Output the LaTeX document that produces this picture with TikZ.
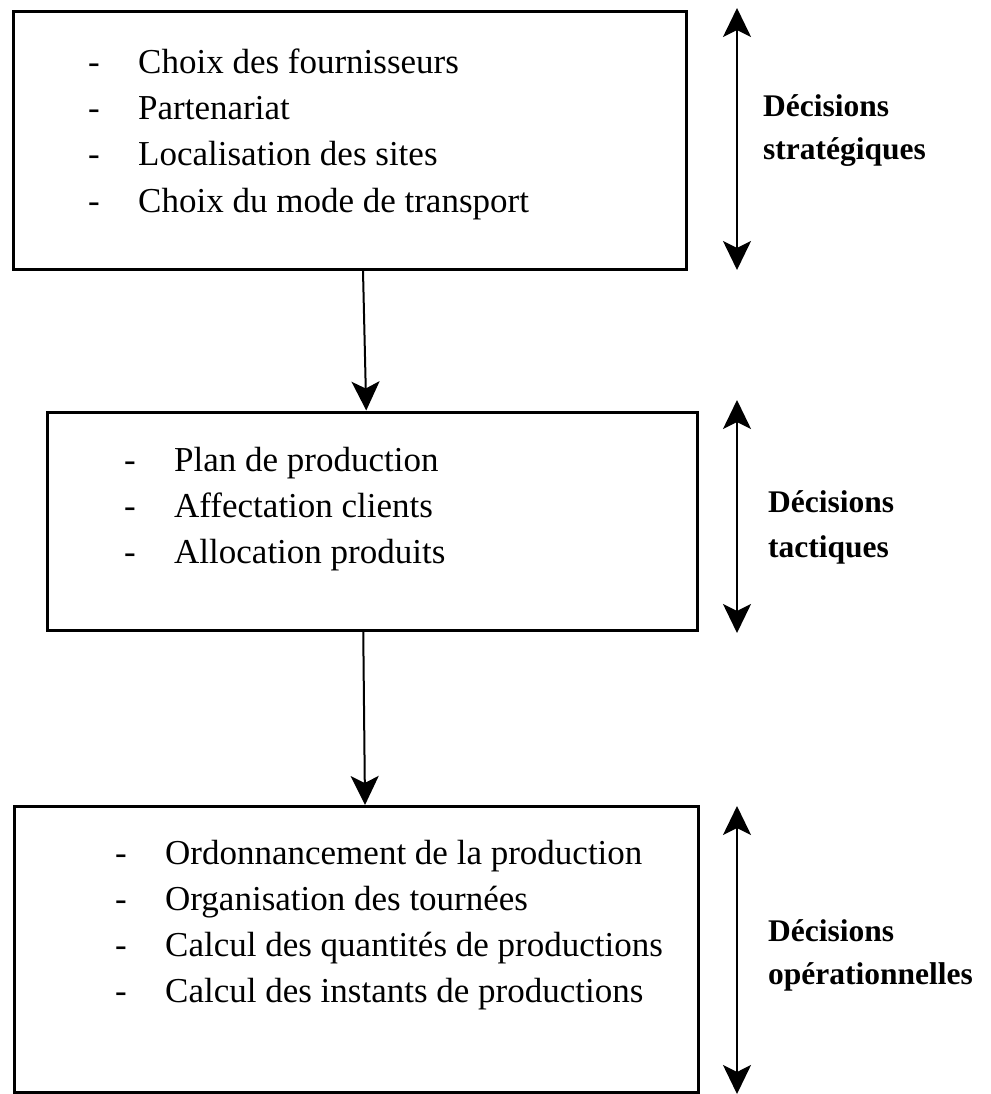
\documentclass[tikz,border=0pt]{standalone}
\usepackage{fontspec}
\setmainfont{Liberation Serif}
\usetikzlibrary{arrows.meta}
\tikzset{headtip/.tip={Stealth[length=29pt,width=28pt,inset=7pt]}}
\begin{document}
\begin{tikzpicture}[x=1pt,y=-1pt,
  box/.style={draw, line width=3pt, rectangle, inner sep=0pt},
  item/.style={anchor=base west, inner sep=0pt, font=\fontsize{35}{42}\selectfont},
  dashmark/.style={anchor=base west, inner sep=0pt, font=\fontsize{35}{42}\selectfont},
  level/.style={anchor=base west, inner sep=0pt, font=\fontsize{31.5}{38}\selectfont\bfseries},
  flow/.style={line width=2pt, -{headtip}},
  span/.style={line width=2pt, {headtip}-{headtip}}]
\useasboundingbox (0,0) rectangle (990,1094);

% decision level boxes
\node[box, minimum width=673pt, minimum height=258pt] (b1) at (350,140.5) {};
\node[box, minimum width=650.5pt, minimum height=218.5pt] (b2) at (372.25,521.25) {};
\node[box, minimum width=684pt, minimum height=285.5pt] (b3) at (356,949.25) {};

% strategic decisions
\node[dashmark] (d11) at (88,74) {-};
\node[dashmark] (d12) at (88,120) {-};
\node[dashmark] (d13) at (88,166) {-};
\node[dashmark] (d14) at (88,212) {-};
\node[item] (t11) at (138,74) {Choix des fournisseurs};
\node[item] (t12) at (138,120) {Partenariat};
\node[item] (t13) at (138,166) {Localisation des sites};
\node[item] (t14) at (138,212) {Choix du mode de transport};

% tactical decisions
\node[dashmark] (d21) at (124,471) {-};
\node[dashmark] (d22) at (124,517) {-};
\node[dashmark] (d23) at (124,563) {-};
\node[item] (t21) at (174,471) {Plan de production};
\node[item] (t22) at (174,517) {Affectation clients};
\node[item] (t23) at (174,563) {Allocation produits};

% operational decisions
\node[dashmark] (d31) at (115,864) {-};
\node[dashmark] (d32) at (115,910) {-};
\node[dashmark] (d33) at (115,956) {-};
\node[dashmark] (d34) at (115,1002) {-};
\node[item] (t31) at (165,864) {Ordonnancement de la production};
\node[item] (t32) at (165,910) {Organisation des tournées};
\node[item] (t33) at (165,956) {Calcul des quantités de productions};
\node[item] (t34) at (165,1002) {Calcul des instants de productions};

% level labels
\node[level] (l1a) at (763,117) {Décisions};
\node[level] (l1b) at (763,160) {stratégiques};
\node[level] (l2a) at (768,512) {Décisions};
\node[level] (l2b) at (768,557) {tactiques};
\node[level] (l3a) at (768,941) {Décisions};
\node[level] (l3b) at (768,984) {opérationnelles};

% flow between levels
\draw[flow] ([xshift=13pt]b1.south) -- ([xshift=-6pt]b2.north);
\draw[flow] ([xshift=-9pt]b2.south) -- ([xshift=9pt]b3.north);

% horizon spans
\coordinate (s1t) at (737,8);
\coordinate (s1b) at (737,270);
\coordinate (s2t) at (737,400);
\coordinate (s2b) at (737,633);
\coordinate (s3t) at (737,806);
\coordinate (s3b) at (737,1094);
\draw[span] (s1t) -- (s1b);
\draw[span] (s2t) -- (s2b);
\draw[span] (s3t) -- (s3b);
\end{tikzpicture}
\end{document}
